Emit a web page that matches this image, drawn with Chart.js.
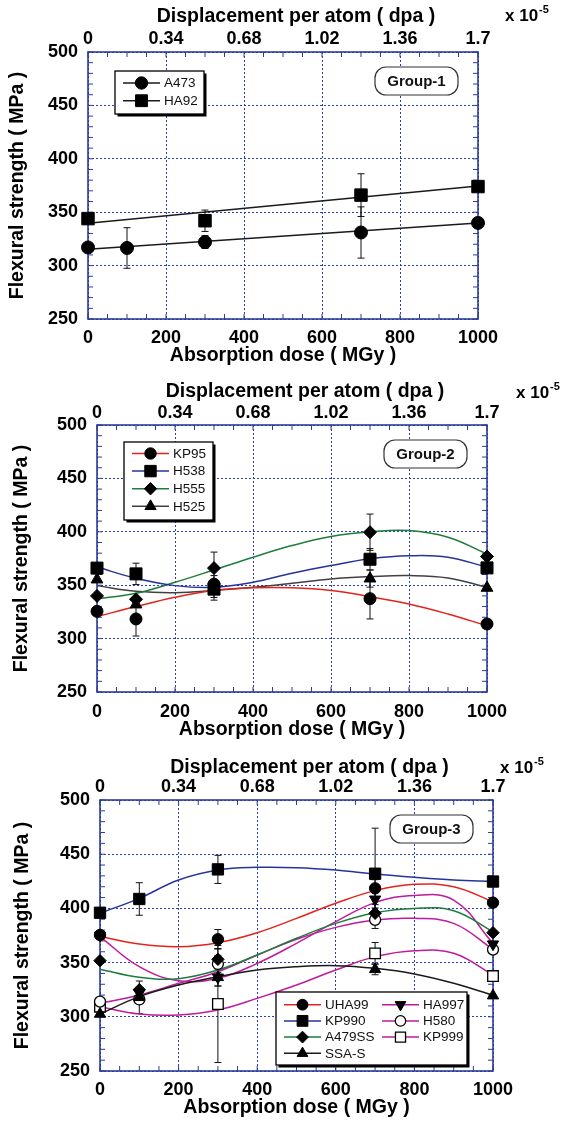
<!DOCTYPE html>
<html><head><meta charset="utf-8">
<script src="https://cdn.jsdelivr.net/npm/chart.js@4.4.1/dist/chart.umd.min.js"></script>
<style>
html,body{margin:0;padding:0;background:#fff;}
body{width:566px;height:1122px;position:relative;overflow:hidden;}
canvas{position:absolute;left:0;}
</style></head>
<body>
<canvas id="c1" width="566" height="370" style="top:0"></canvas>
<canvas id="c2" width="566" height="375" style="top:370px"></canvas>
<canvas id="c3" width="566" height="377" style="top:745px"></canvas>
<script>
// ---------------- DATA ----------------
const doses = [0, 100, 300, 700, 1000];
const fitDoses = [0, 100, 200, 300, 400, 500, 600, 700, 800, 900, 1000];
const lineDoses = [0, 1000];
const doseTicks = [0, 200, 400, 600, 800, 1000];
const dpaTicks = [0, 0.34, 0.68, 1.02, 1.36, 1.7];
const dpaLabels = ['0', '0.34', '0.68', '1.02', '1.36', '1.7'];
const strengthTicks = [250, 300, 350, 400, 450, 500];

// Group-1
const A473 = [317, 316.5, 322, 331, 340];
const A473_err = [0, 19, 6, 24, 0];
const A473_fit = [315.3, 339.8];
const HA92 = [344, null, 342, 366, 374];
const HA92_err = [0, 0, 10, 20, 0];
const HA92_fit = [339.6, 374.5];

// Group-2
const KP95 = [325.5, 318.4, 351, 337.4, 313.7];
const KP95_err = [0, 16, 8, 19, 0];
const KP95_fit = [320.6, 330, 338.7, 345, 347.5, 347.5, 345, 339.3, 332.4, 323, 312];
const H538 = [366, 360.6, 346.5, 374.3, 366.2];
const H538_err = [0, 10, 8, 10, 0];
const H538_fit = [367, 356.5, 349.6, 348, 352.7, 361.2, 368.4, 374.7, 377.5, 376.2, 366.8];
const H555 = [340, 336.8, 366, 399.6, 376.8];
const H555_err = [0, 0, 15, 17, 0];
const H555_fit = [337.2, 342.4, 352.7, 364.3, 376.2, 387.1, 395.6, 400, 401.2, 394.9, 379.3];
const H525 = [355.3, 331.9, 344, 356.2, 347.5];
const H525_err = [0, 0, 8, 8, 0];
const H525_fit = [349.6, 344.3, 343, 345, 348, 351.8, 355.9, 358, 359, 356.8, 348];

// Group-3
const UHA99 = [375.5, null, 371.5, 418.5, 405.3];
const UHA99_err = [0, 0, 9, 8, 0];
const UHA99_fit = [374, 367.2, 364.7, 368.4, 377.6, 390.8, 404.7, 416.4, 422.2, 420, 406.2];
const KP990 = [396, 408.7, 436, 432, 424.8];
const KP990_err = [0, 15, 13, 42, 0];
const KP990_fit = [395.5, 409.3, 426.2, 435.4, 437.9, 437.6, 435.4, 431.7, 428.7, 426.2, 424.7];
const A479SS = [351.8, 325, 353, 395.5, 377.6];
const A479SS_err = [0, 0, 10, 8, 0];
const A479SS_fit = [343.8, 336.4, 335.2, 343.2, 357, 372.4, 386.2, 396, 400, 397.9, 378.5];
const SSAS = [302.6, 318, 336.4, 343.8, 319.5];
const SSAS_err = [0, 15, 8, 5, 0];
const SSAS_fit = [302.6, 318.6, 329.3, 337, 343.2, 346.2, 347.2, 344.7, 339.5, 330.9, 320];
const HA997 = [375, 322, 336.4, 408.4, 367];
const HA997_err = [0, 0, 8, 8, 0];
const HA997_fit = [374, 346.2, 333.3, 335.5, 349.3, 367.8, 387.8, 405.3, 412, 407.7, 367.8];
const H580 = [314, 316, 348.7, 389.5, 362];
const H580_err = [0, 0, 8, 8, 0];
const H580_fit = [312.4, 320.1, 330.9, 341.6, 357, 371.5, 382.5, 389.3, 390.8, 386.2, 362.2];
const KP999 = [309.3, null, 311.8, 358.5, 337.6];
const KP999_err = [0, 0, 54, 10, 0];
const KP999_fit = [309.3, 302.6, 301.7, 306.3, 317, 329.3, 343.2, 355.5, 361, 358.6, 338.6];

// ---------------- STYLE ----------------
const FONT = '"Liberation Sans", Arial, Helvetica, sans-serif';
const frameColor = '#2c3c9c';
const gridColor = '#2a3cb0';
const RED = '#e3241d', BLUE = '#24349c', GREEN = '#1e7d3c', GRAY = '#404040', BLACK = '#1a1a1a', MAG = '#c01b9c';
const TITLE_SIZE = 19.5;

function pts(xs, ys, errs) {
  const out = [];
  xs.forEach((x, i) => { if (ys[i] !== null && ys[i] !== undefined) out.push({x: x, y: ys[i], e: errs ? errs[i] : 0}); });
  return out;
}

function drawMark(ctx, s, x, y) {
  const r = s.r;
  ctx.save();
  ctx.fillStyle = s.open ? '#fff' : '#000';
  ctx.strokeStyle = '#000';
  ctx.lineWidth = s.open ? 1.3 : 1;
  ctx.beginPath();
  if (s.style === 'circle') {
    ctx.arc(x, y, r, 0, Math.PI * 2);
  } else if (s.style === 'rect') {
    const h = r * Math.SQRT1_2;
    ctx.rect(x - h, y - h, 2 * h, 2 * h);
  } else if (s.style === 'rectRot') {
    ctx.moveTo(x, y - r); ctx.lineTo(x + r, y); ctx.lineTo(x, y + r); ctx.lineTo(x - r, y);
  } else if (s.style === 'triangle') {
    const rot = (s.rot || 0) * Math.PI / 180;
    for (let k = 0; k < 3; k++) {
      const a = rot + k * 2 * Math.PI / 3;
      const px = x + Math.sin(a) * r, py = y - Math.cos(a) * r;
      if (k === 0) ctx.moveTo(px, py); else ctx.lineTo(px, py);
    }
  }
  ctx.closePath();
  ctx.fill();
  ctx.stroke();
  ctx.restore();
}

const decor = {
  id: 'decor',
  beforeDatasetsDraw(chart) {
    const {ctx, chartArea: a, scales} = chart;
    ctx.save();
    ctx.strokeStyle = frameColor;
    ctx.lineWidth = 1;
    ctx.beginPath();
    for (let v = doseTicks[0]; v <= doseTicks[doseTicks.length - 1]; v += 50) {
      const x = scales.x.getPixelForValue(v);
      ctx.moveTo(x, a.bottom); ctx.lineTo(x, a.bottom - 5);
      ctx.moveTo(x, a.top); ctx.lineTo(x, a.top + 5);
    }
    for (let v = strengthTicks[0]; v <= strengthTicks[strengthTicks.length - 1]; v += 10) {
      const y = scales.y.getPixelForValue(v);
      ctx.moveTo(a.left, y); ctx.lineTo(a.left + 5, y);
      ctx.moveTo(a.right, y); ctx.lineTo(a.right - 5, y);
    }
    ctx.stroke();
    ctx.lineWidth = 1.6;
    ctx.strokeRect(a.left, a.top, a.right - a.left, a.bottom - a.top);
    // error bars
    ctx.strokeStyle = '#111';
    ctx.lineWidth = 1;
    chart.data.datasets.forEach(ds => {
      if (!ds.isMarker) return;
      ds.data.forEach(p => {
        if (!p.e) return;
        const x = scales.x.getPixelForValue(p.x);
        const y1 = scales.y.getPixelForValue(p.y + p.e);
        const y2 = scales.y.getPixelForValue(p.y - p.e);
        ctx.beginPath();
        ctx.moveTo(x, y1); ctx.lineTo(x, y2);
        ctx.moveTo(x - 3.5, y1); ctx.lineTo(x + 3.5, y1);
        ctx.moveTo(x - 3.5, y2); ctx.lineTo(x + 3.5, y2);
        ctx.stroke();
      });
    });
    ctx.restore();
  },
  afterDraw(chart) {
    const {ctx, chartArea: a} = chart;
    const cfg = chart.options.plugins.decor;
    ctx.save();
    // top axis title
    ctx.fillStyle = '#000';
    ctx.font = 'bold ' + TITLE_SIZE + 'px ' + FONT;
    ctx.textAlign = 'center';
    ctx.textBaseline = 'middle';
    ctx.fillText('Displacement per atom ( dpa )', (a.left + a.right) / 2 + 13, cfg.topTitleY);
    // x 10^-5
    ctx.textBaseline = 'alphabetic';
    ctx.textAlign = 'left';
    ctx.font = 'bold 17px ' + FONT;
    ctx.fillText('x 10', cfg.expX, cfg.expY);
    const w = ctx.measureText('x 10').width;
    ctx.font = 'bold 11px ' + FONT;
    ctx.fillText('-5', cfg.expX + w + 1, cfg.expY - 8);
    // group label
    const gw = 83, gh = 28;
    const gx = a.right - 20 - gw, gy = a.top + 15;
    ctx.beginPath();
    ctx.roundRect(gx, gy, gw, gh, 11);
    ctx.fillStyle = '#fff';
    ctx.fill();
    ctx.strokeStyle = '#333';
    ctx.lineWidth = 1.2;
    ctx.stroke();
    ctx.fillStyle = '#111';
    ctx.font = 'bold 15px ' + FONT;
    ctx.textAlign = 'center';
    ctx.textBaseline = 'middle';
    ctx.fillText(cfg.group, gx + gw / 2, gy + gh / 2 + 1);
    // legend
    const L = cfg.legend;
    const lx = a.left + L.dx, ly = L.fromBottom ? a.bottom - L.dy - L.h : a.top + L.dy;
    ctx.fillStyle = '#000';
    ctx.fillRect(lx + 2.5, ly + 2.5, L.w, L.h);
    ctx.fillStyle = '#fff';
    ctx.fillRect(lx, ly, L.w, L.h);
    ctx.strokeStyle = '#000';
    ctx.lineWidth = 1.3;
    ctx.strokeRect(lx, ly, L.w, L.h);
    ctx.font = '13.5px ' + FONT;
    ctx.textAlign = 'left';
    ctx.textBaseline = 'middle';
    cfg.series.forEach((s, i) => {
      const col = Math.floor(i / L.rows), row = i % L.rows;
      const bx = lx + col * L.colW;
      const y = ly + L.first + row * L.rowH;
      ctx.strokeStyle = s.color;
      ctx.lineWidth = 1.5;
      ctx.beginPath();
      ctx.moveTo(bx + 8, y); ctx.lineTo(bx + 45, y);
      ctx.stroke();
      drawMark(ctx, Object.assign({}, s, {r: s.r * 0.95}), bx + 26.5, y);
      ctx.fillStyle = '#111';
      ctx.fillText(s.name, bx + 49, y + 0.5);
    });
    ctx.restore();
  }
};

function makePanel(id, p) {
  const datasets = [];
  p.series.forEach(s => {
    datasets.push({
      label: s.name, isMarker: true, data: pts(doses, s.values, s.err),
      showLine: false, clip: false, order: 0,
      pointStyle: s.style, pointRadius: s.r, pointRotation: s.rot || 0,
      pointBackgroundColor: s.open ? '#fff' : '#000', pointBorderColor: '#000',
      pointBorderWidth: s.open ? 1.3 : 1, pointHoverRadius: s.r
    });
  });
  p.series.forEach(s => {
    datasets.push({
      label: s.name + ' fit', data: pts(s.fitX, s.fit), showLine: true, order: 1,
      borderColor: s.color, borderWidth: 1.5, pointRadius: 0, pointHoverRadius: 0,
      tension: s.fitX.length > 2 ? 0.4 : 0, fill: false, clip: false
    });
  });
  const tickFont = {family: FONT, size: 18, weight: 'bold'};
  const titleFont = {family: FONT, size: TITLE_SIZE, weight: 'bold'};
  return new Chart(document.getElementById(id), {
    type: 'scatter',
    data: {datasets},
    options: {
      responsive: false, animation: false, devicePixelRatio: 1,
      events: [],
      layout: {padding: {left: 0, right: 566 - p.R, top: 0, bottom: 0}},
      plugins: {legend: {display: false}, tooltip: {enabled: false}, decor: p},
      scales: {
        x: {
          type: 'linear', position: 'bottom', min: 0, max: 1000,
          afterBuildTicks: s => { s.ticks = doseTicks.map(v => ({value: v})); },
          grid: {color: gridColor, lineWidth: 1, drawTicks: false},
          border: {display: false, dash: [2, 2]},
          ticks: {font: tickFont, color: '#000', padding: p.bTickPad, maxRotation: 0, callback: v => String(v)},
          title: {display: true, text: 'Absorption dose ( MGy )', font: titleFont, color: '#000', padding: {top: 0, bottom: p.bTitlePad}},
          afterFit: s => { s.height = p.H - p.B; }
        },
        x2: {
          type: 'linear', position: 'top', min: 0, max: 1.7,
          afterBuildTicks: s => { s.ticks = dpaTicks.map(v => ({value: v})); },
          grid: {display: false, drawTicks: false},
          border: {display: false},
          ticks: {font: tickFont, color: '#000', padding: p.tTickPad, maxRotation: 0, callback: (v, i) => dpaLabels[i]},
          title: {display: false},
          afterFit: s => { s.height = p.T; }
        },
        y: {
          type: 'linear', position: 'left', min: 250, max: 500,
          afterBuildTicks: s => { s.ticks = strengthTicks.map(v => ({value: v})); },
          grid: {color: gridColor, lineWidth: 1, drawTicks: false},
          border: {display: false, dash: [2, 2]},
          ticks: {font: tickFont, color: '#000', padding: 10, callback: v => String(v)},
          title: {display: true, text: 'Flexural strength ( MPa )', font: titleFont, color: '#000', padding: {top: p.yTitlePad, bottom: 0}},
          afterFit: s => { s.width = p.L; }
        }
      }
    },
    plugins: [decor]
  });
}

makePanel('c1', {
  H: 370, L: 88, R: 478, T: 52, B: 319,
  topTitleY: 16.5, tTickPad: 2.5, bTickPad: 8.5, bTitlePad: 2.5, yTitlePad: 6,
  expX: 505, expY: 21, group: 'Group-1',
  legend: {dx: 27, dy: 19, w: 89, h: 43, rows: 2, rowH: 17.7, first: 12, colW: 0},
  series: [
    {name: 'A473', values: A473, err: A473_err, fitX: lineDoses, fit: A473_fit, color: BLACK, style: 'circle', r: 6.5},
    {name: 'HA92', values: HA92, err: HA92_err, fitX: lineDoses, fit: HA92_fit, color: BLACK, style: 'rect', r: 8.8}
  ]
});

makePanel('c2', {
  H: 375, L: 97, R: 487, T: 55, B: 322,
  topTitleY: 21.5, tTickPad: 1.5, bTickPad: 9.5, bTitlePad: 3.5, yTitlePad: 10,
  expX: 516, expY: 28, group: 'Group-2',
  legend: {dx: 27, dy: 17, w: 89, h: 78, rows: 4, rowH: 17.6, first: 11.5, colW: 0},
  series: [
    {name: 'KP95', values: KP95, err: KP95_err, fitX: fitDoses, fit: KP95_fit, color: RED, style: 'circle', r: 6},
    {name: 'H538', values: H538, err: H538_err, fitX: fitDoses, fit: H538_fit, color: BLUE, style: 'rect', r: 8.5},
    {name: 'H555', values: H555, err: H555_err, fitX: fitDoses, fit: H555_fit, color: GREEN, style: 'rectRot', r: 6.5},
    {name: 'H525', values: H525, err: H525_err, fitX: fitDoses, fit: H525_fit, color: GRAY, style: 'triangle', r: 6.8}
  ]
});

makePanel('c3', {
  H: 377, L: 100, R: 493, T: 55, B: 326,
  topTitleY: 23, tTickPad: 2.5, bTickPad: 8.5, bTitlePad: 2.5, yTitlePad: 11,
  expX: 500, expY: 28, group: 'Group-3',
  legend: {dx: 176, dy: 6, fromBottom: true, w: 191, h: 73, rows: 4, rowH: 16.2, first: 12.7, colW: 98},
  series: [
    {name: 'UHA99', values: UHA99, err: UHA99_err, fitX: fitDoses, fit: UHA99_fit, color: RED, style: 'circle', r: 5.7},
    {name: 'KP990', values: KP990, err: KP990_err, fitX: fitDoses, fit: KP990_fit, color: BLUE, style: 'rect', r: 8},
    {name: 'A479SS', values: A479SS, err: A479SS_err, fitX: fitDoses, fit: A479SS_fit, color: GREEN, style: 'rectRot', r: 6.2},
    {name: 'SSA-S', values: SSAS, err: SSAS_err, fitX: fitDoses, fit: SSAS_fit, color: BLACK, style: 'triangle', r: 6.5},
    {name: 'HA997', values: HA997, err: HA997_err, fitX: fitDoses, fit: HA997_fit, color: MAG, style: 'triangle', rot: 180, r: 6.5},
    {name: 'H580', values: H580, err: H580_err, fitX: fitDoses, fit: H580_fit, color: MAG, style: 'circle', open: true, r: 5.5},
    {name: 'KP999', values: KP999, err: KP999_err, fitX: fitDoses, fit: KP999_fit, color: MAG, style: 'rect', open: true, r: 7.5}
  ]
});
</script>
</body></html>
